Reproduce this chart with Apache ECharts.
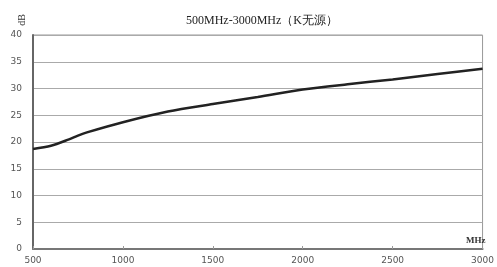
<!DOCTYPE html>
<html>
<head>
<meta charset="utf-8">
<script src="https://cdn.jsdelivr.net/npm/echarts@6/dist/echarts.min.js"></script>
<style>
  html, body { margin: 0; padding: 0; background: #fff; }
  #main { width: 497px; height: 267px; }
</style>
</head>
<body>
<div id="main"></div>
<script>
// 数据：频率 (MHz) 与 增益 (dB)
var freqs = [500, 600, 700, 750, 800, 1000, 1250, 1500, 1750, 2000, 2250, 2500, 2750, 3000];
var gains = [18.7, 19.3, 20.5, 21.2, 21.8, 23.7, 25.7, 27.1, 28.4, 29.8, 30.8, 31.7, 32.7, 33.7];
var xTicks = [500, 1000, 1500, 2000, 2500, 3000];
var yTicks = [0, 5, 10, 15, 20, 25, 30, 35, 40];

var seriesData = [];
for (var i = 0; i < freqs.length; i++) {
  seriesData.push([freqs[i], gains[i]]);
}

var myChart = echarts.init(document.getElementById('main'));

var option = {
  animation: false,
  title: {
    text: '500MHz-3000MHz（K无源）',
    left: 257,
    textAlign: 'center',
    top: 10,
    textStyle: {
      fontFamily: 'Liberation Serif, serif',
      fontSize: 12,
      fontWeight: 'normal',
      color: '#222'
    }
  },
  graphic: [{
    type: 'text',
    left: 17,
    top: 14,
    rotation: Math.PI / 2,
    style: {
      text: 'dB',
      fontFamily: 'Liberation Serif, serif',
      fontSize: 10,
      fill: '#333'
    }
  }, {
    type: 'text',
    left: 466,
    top: 236,
    style: {
      text: 'MHz',
      fontFamily: 'Liberation Serif, serif',
      fontWeight: 'bold',
      fontSize: 9,
      fill: '#333'
    }
  }],
  grid: {
    left: 33,
    right: 14,
    top: 35,
    bottom: 18,
    show: true,
    borderColor: '#999',
    borderWidth: 1
  },
  xAxis: {
    type: 'value',
    min: xTicks[0],
    max: xTicks[xTicks.length - 1],
    interval: 500,
    axisLine: { lineStyle: { color: '#777', width: 2 } },
    axisTick: { show: true, inside: true, length: 3, lineStyle: { color: '#999' } },
    splitLine: { show: false },
    axisLabel: {
      color: '#555',
      fontFamily: 'DejaVu Sans, sans-serif',
      fontSize: 9,
      margin: 7,
      formatter: function (v) { return String(v); }
    }
  },
  yAxis: {
    type: 'value',
    min: yTicks[0],
    max: yTicks[yTicks.length - 1],
    interval: 5,
    axisLine: { show: true, lineStyle: { color: '#666', width: 2 } },
    axisTick: { show: false },
    splitLine: { show: true, lineStyle: { color: '#aaa', width: 1 } },
    axisLabel: {
      color: '#555',
      fontFamily: 'DejaVu Sans, sans-serif',
      fontSize: 9,
      margin: 11
    }
  },
  series: [{
    name: '增益',
    type: 'line',
    data: seriesData,
    smooth: 0.3,
    symbol: 'none',
    lineStyle: { color: '#222', width: 2.5 }
  }]
};

myChart.setOption(option);
</script>
</body>
</html>
